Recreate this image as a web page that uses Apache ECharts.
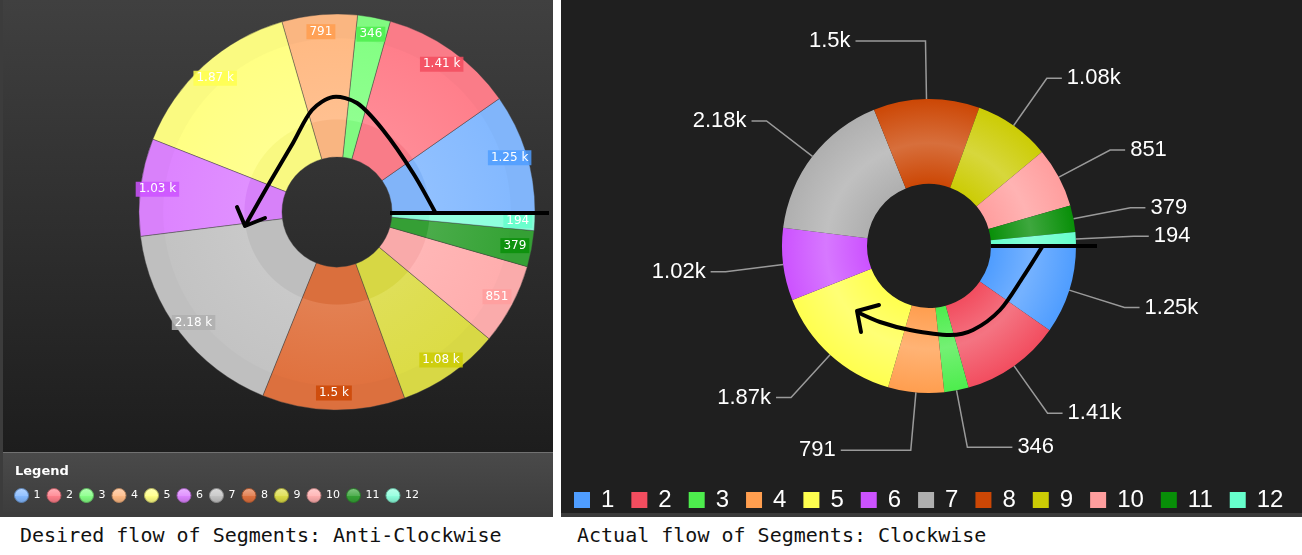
<!DOCTYPE html>
<html>
<head>
<meta charset="utf-8">
<script src="https://cdn.jsdelivr.net/npm/echarts@6/dist/echarts.min.js"></script>
<style>
  body { margin: 0; background: #fff; width: 1302px; height: 555px; overflow: hidden; position: relative; }
  #left { position: absolute; left: 0; top: 0; width: 553px; height: 517px; }
  #right { position: absolute; left: 561px; top: 0; width: 741px; height: 517px; }
  .caption { position: absolute; top: 523px; font-size: 20px; font-family: 'DejaVu Sans Mono', monospace; color: #111; white-space: pre; }
</style>
</head>
<body>
<div id="left"></div>
<div id="right"></div>
<div class="caption" style="left: 20px">Desired flow of Segments: Anti-Clockwise</div>
<div class="caption" style="left: 577px">Actual flow of Segments: Clockwise</div>

<script>
  // segment names and values
  const categories = ['1', '2', '3', '4', '5', '6', '7', '8', '9', '10', '11', '12']
  const values = [1250, 1410, 346, 791, 1870, 1025, 2180, 1500, 1080, 851, 379, 194]

  // palettes: strong one (right chart / label boxes), soft one (left chart)
  const strongColors = ['#4f9dff', '#f24d5f', '#4ded4d', '#ff9e4f', '#ffff4f', '#cc52ff',
    '#afafaf', '#cc4705', '#cccc05', '#ff9e9e', '#088f08', '#66ffcc']
  const softColors = ['#84b9ff', '#ff7f8b', '#84ff84', '#ffba84', '#ffff84', '#dd84ff',
    '#c3c3c3', '#e0723f', '#dcdc46', '#ffaeae', '#36a336', '#8cffdc']

  // extra horizontal leader length for a few labels on the right chart
  const leaderLength2 = { '8': 70, '4': 70, '3': 45 }

  const C = echarts.color
  const dark = (c, k) => C.lerp(k, [c, '#000000'])

  function leftFmt(v) {
    return v >= 1000 ? Math.round(v / 10) / 100 + ' k' : String(v)
  }
  function rightFmt(v) {
    return v >= 1000 ? parseFloat((v / 1000).toFixed(2)) + 'k' : String(v)
  }

  function glossy(c) {
    return new echarts.graphic.LinearGradient(0, 0, 0, 1, [
      { offset: 0, color: C.lift(c, 0.4) },
      { offset: 0.5, color: C.lift(c, 0.15) },
      { offset: 0.52, color: c },
      { offset: 1, color: dark(c, 0.15) }
    ])
  }

  // ---------- left chart ----------
  const L = { cx: 337, cy: 212, r0: 55, r: 198 }
  function leftFill(c) {
    return new echarts.graphic.RadialGradient(L.cx, L.cy, L.r, [
      { offset: 0, color: dark(c, 0.025) },
      { offset: 0.465, color: dark(c, 0.025) },
      { offset: 0.47, color: C.lift(c, 0.1) },
      { offset: 0.875, color: c },
      { offset: 0.88, color: dark(c, 0.02) },
      { offset: 1, color: dark(c, 0.02) }
    ], true)
  }

  const leftChart = echarts.init(document.getElementById('left'))
  leftChart.setOption({
    animation: false,
    title: {
      text: 'Legend', left: 10, top: 460,
      textStyle: { color: '#fff', fontSize: 13, fontWeight: 'bold', fontFamily: 'DejaVu Sans' }
    },
    legend: {
      left: 14, top: 488, padding: 0, icon: 'circle', itemWidth: 14, itemHeight: 14, itemGap: 6,
      selectedMode: false,
      textStyle: { color: '#fff', fontSize: 11, fontFamily: 'DejaVu Sans' },
      data: categories.map((c, i) => ({
        name: c,
        itemStyle: { color: glossy(softColors[i]), borderColor: dark(softColors[i], 0.3), borderWidth: 1 }
      }))
    },
    graphic: [
      { type: 'rect', z: -10, silent: true, shape: { x: 0, y: 0, width: 553, height: 517 }, style: { fill: '#3c3c3c' } },
      {
        type: 'rect', z: -9, silent: true, shape: { x: 3, y: 0, width: 550, height: 452 },
        style: { fill: new echarts.graphic.LinearGradient(0, 0, 0, 1, [{ offset: 0, color: '#404040' }, { offset: 1, color: '#1d1d1d' }]) }
      },
      {
        type: 'rect', z: -9, silent: true, shape: { x: 3, y: 452, width: 550, height: 60 },
        style: { fill: new echarts.graphic.LinearGradient(0, 0, 0, 1, [{ offset: 0, color: '#4a4a4a' }, { offset: 1, color: '#3d3d3d' }]) }
      },
      { type: 'line', z: -8, silent: true, shape: { x1: 3, y1: 452.5, x2: 553, y2: 452.5 }, style: { stroke: '#717171', lineWidth: 1 } },
      // hand drawn arrow
      { type: 'line', z: 100, silent: true, shape: { x1: 390, y1: 213, x2: 549, y2: 213 }, style: { stroke: '#000', lineWidth: 4 } },
      {
        type: 'polyline', z: 100, silent: true,
        shape: { points: [[435, 212], [413, 173], [383, 130], [357, 103], [333, 97], [312, 110], [293, 143], [270, 182], [245, 226]], smooth: 0.3 },
        style: { stroke: '#000', lineWidth: 4, fill: null }
      },
      {
        type: 'polyline', z: 100, silent: true,
        shape: { points: [[237, 207], [245, 226], [265, 218]] },
        style: { stroke: '#000', lineWidth: 4, fill: null, lineJoin: 'round', lineCap: 'round' }
      }
    ],
    series: [
      {
        type: 'pie', center: [L.cx, L.cy], radius: [L.r0, L.r],
        startAngle: 0, clockwise: false,
        label: { show: false }, labelLine: { show: false },
        emphasis: { disabled: true },
        itemStyle: { borderColor: 'rgba(60,60,60,0.6)', borderWidth: 0.7 },
        data: categories.map((c, i) => ({ name: c, value: values[i], itemStyle: { color: leftFill(softColors[i]) } }))
      },
      {
        // outer band only carries the value labels
        type: 'pie', center: [L.cx, L.cy], radius: [158, L.r],
        startAngle: 0, clockwise: false, silent: true,
        itemStyle: { color: 'transparent' },
        labelLine: { show: false },
        label: {
          show: true, position: 'inside', color: '#fff', fontSize: 12, fontFamily: 'DejaVu Sans',
          padding: [2, 3, 1, 3], formatter: p => leftFmt(p.value)
        },
        data: categories.map((c, i) => ({
          name: c, value: values[i],
          label: { backgroundColor: C.modifyAlpha(strongColors[i], 0.85) }
        }))
      }
    ]
  })

  // ---------- right chart ----------
  const R = { cx: 368, cy: 246, r0: 62, r: 147 }
  function rightFill(c) {
    return new echarts.graphic.RadialGradient(R.cx, R.cy, R.r, [
      { offset: 0, color: c },
      { offset: 0.42, color: c },
      { offset: 0.7, color: C.lift(c, 0.22) },
      { offset: 1, color: c }
    ], true)
  }

  const rightChart = echarts.init(document.getElementById('right'))
  rightChart.setOption({
    animation: false,
    legend: {
      left: 13, top: 488, padding: 0, icon: 'rect', itemWidth: 16, itemHeight: 16, itemGap: 17,
      selectedMode: false,
      textStyle: { color: '#fff', fontSize: 24, fontFamily: 'Liberation Sans', padding: [0, 0, 0, 6] },
      data: categories.map((c, i) => ({ name: c, itemStyle: { color: strongColors[i] } }))
    },
    graphic: [
      { type: 'rect', z: -10, silent: true, shape: { x: 0, y: 0, width: 741, height: 517 }, style: { fill: '#3a3a3a' } },
      { type: 'rect', z: -9, silent: true, shape: { x: 0, y: 0, width: 741, height: 513 }, style: { fill: '#1f1f1f' } },
      // hand drawn arrow
      { type: 'line', z: 100, silent: true, shape: { x1: 430, y1: 246, x2: 536, y2: 246 }, style: { stroke: '#000', lineWidth: 4 } },
      {
        type: 'polyline', z: 100, silent: true,
        shape: { points: [[481, 247], [462, 277], [439, 310], [412, 330], [389, 335], [349, 330], [319, 322], [296, 312]], smooth: 0.3 },
        style: { stroke: '#000', lineWidth: 4, fill: null }
      },
      {
        type: 'polyline', z: 100, silent: true,
        shape: { points: [[318, 305], [296, 311], [300, 332]] },
        style: { stroke: '#000', lineWidth: 4, fill: null, lineJoin: 'round', lineCap: 'round' }
      }
    ],
    series: [{
      type: 'pie', center: [R.cx, R.cy], radius: [R.r0, R.r],
      startAngle: 0, clockwise: true,
      emphasis: { disabled: true },
      label: { color: '#fff', fontSize: 22, fontFamily: 'Liberation Sans', formatter: p => rightFmt(p.value) },
      labelLine: { length: 58, length2: 15, lineStyle: { color: '#9a9a9a', width: 1.5 } },
      data: categories.map((c, i) => ({
        name: c, value: values[i],
        itemStyle: { color: rightFill(strongColors[i]) },
        labelLine: leaderLength2[c] ? { length2: leaderLength2[c] } : undefined
      }))
    }]
  })
</script>
</body>
</html>
